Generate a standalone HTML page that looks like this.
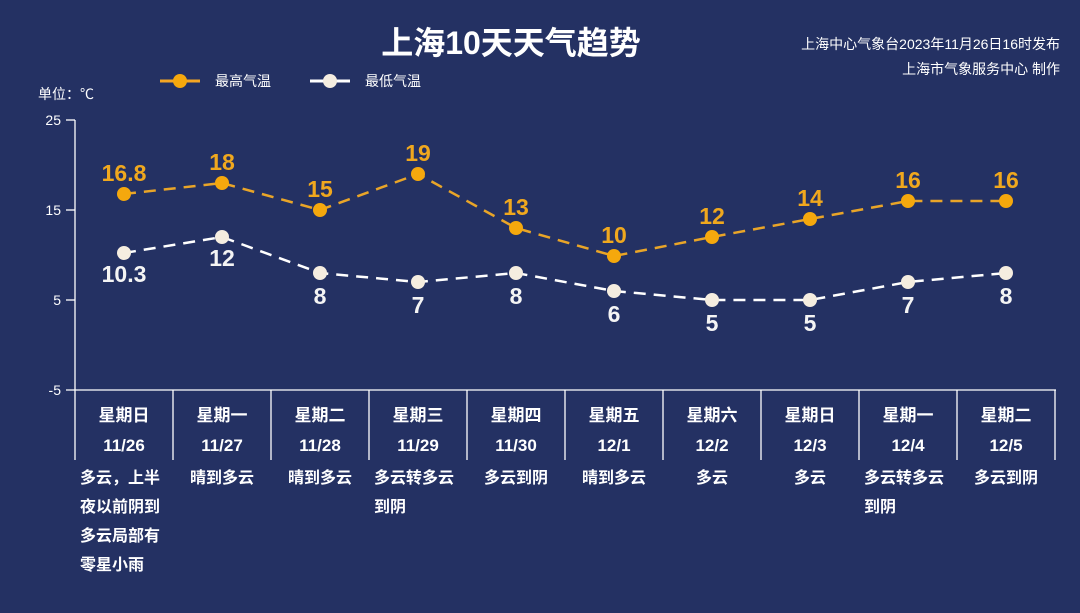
<!DOCTYPE html>
<html><head><meta charset="utf-8"><style>
html,body{margin:0;padding:0;background:#243163;}
svg{display:block;font-family:"Liberation Sans","Noto Sans CJK SC",sans-serif;}
</style></head><body>
<svg width="1080" height="613" viewBox="0 0 1080 613" xmlns="http://www.w3.org/2000/svg">
<rect width="1080" height="613" fill="#243163"/>
<text x="511" y="54" text-anchor="middle" font-size="32" font-weight="bold" fill="#fff">上海10天天气趋势</text>
<text x="1060" y="49" text-anchor="end" font-size="14" fill="#fff">上海中心气象台2023年11月26日16时发布</text>
<text x="1060" y="74" text-anchor="end" font-size="14" fill="#fff">上海市气象服务中心 制作</text>
<line x1="160" y1="81" x2="200" y2="81" stroke="#f5a623" stroke-width="3"/><circle cx="180" cy="81" r="7" fill="#f5a80d"/>
<text x="215" y="86" font-size="14" fill="#fff">最高气温</text>
<line x1="310" y1="81" x2="350" y2="81" stroke="#fff" stroke-width="3"/><circle cx="330" cy="81" r="7" fill="#f5ede0"/>
<text x="365" y="86" font-size="14" fill="#fff">最低气温</text>
<text x="38" y="99" font-size="14" fill="#fff">单位：℃</text>
<g stroke="#fff" stroke-width="1.3" fill="none">
<line x1="75" y1="120" x2="75" y2="460"/>
<line x1="66" y1="120" x2="75" y2="120"/><line x1="66" y1="210" x2="75" y2="210"/><line x1="66" y1="300" x2="75" y2="300"/>
<line x1="66" y1="390" x2="1056" y2="390"/>
<line x1="173" y1="390" x2="173" y2="460"/><line x1="271" y1="390" x2="271" y2="460"/><line x1="369" y1="390" x2="369" y2="460"/><line x1="467" y1="390" x2="467" y2="460"/><line x1="565" y1="390" x2="565" y2="460"/><line x1="663" y1="390" x2="663" y2="460"/><line x1="761" y1="390" x2="761" y2="460"/><line x1="859" y1="390" x2="859" y2="460"/><line x1="957" y1="390" x2="957" y2="460"/><line x1="1055" y1="390" x2="1055" y2="460"/>
</g>
<g font-size="14" fill="#fff" text-anchor="end">
<text x="61" y="125">25</text><text x="61" y="215">15</text><text x="61" y="305">5</text><text x="61" y="395">-5</text>
</g>
<polyline points="124,194 222,183 320,210 418,174 516,228 614,256 712,237 810,219 908,201 1006,201" fill="none" stroke="#e9a528" stroke-width="2.5" stroke-dasharray="12,8"/>
<polyline points="124,253 222,237 320,273 418,282 516,273 614,291 712,300 810,300 908,282 1006,273" fill="none" stroke="#fff" stroke-width="2.5" stroke-dasharray="12,8"/>
<g fill="#f5a80d">
<circle cx="124" cy="194" r="7"/><circle cx="222" cy="183" r="7"/><circle cx="320" cy="210" r="7"/><circle cx="418" cy="174" r="7"/><circle cx="516" cy="228" r="7"/><circle cx="614" cy="256" r="7"/><circle cx="712" cy="237" r="7"/><circle cx="810" cy="219" r="7"/><circle cx="908" cy="201" r="7"/><circle cx="1006" cy="201" r="7"/>
</g>
<g fill="#f5ede0">
<circle cx="124" cy="253" r="7"/><circle cx="222" cy="237" r="7"/><circle cx="320" cy="273" r="7"/><circle cx="418" cy="282" r="7"/><circle cx="516" cy="273" r="7"/><circle cx="614" cy="291" r="7"/><circle cx="712" cy="300" r="7"/><circle cx="810" cy="300" r="7"/><circle cx="908" cy="282" r="7"/><circle cx="1006" cy="273" r="7"/>
</g>
<g font-size="23" font-weight="bold" fill="#f0a81e" text-anchor="middle">
<text x="124" y="181">16.8</text><text x="222" y="170">18</text><text x="320" y="197">15</text><text x="418" y="161">19</text><text x="516" y="215">13</text><text x="614" y="243">10</text><text x="712" y="224">12</text><text x="810" y="206">14</text><text x="908" y="188">16</text><text x="1006" y="188">16</text>
</g>
<g font-size="23" font-weight="bold" fill="#f4f4f4" text-anchor="middle">
<text x="124" y="282">10.3</text><text x="222" y="266">12</text><text x="320" y="304">8</text><text x="418" y="313">7</text><text x="516" y="304">8</text><text x="614" y="322">6</text><text x="712" y="331">5</text><text x="810" y="331">5</text><text x="908" y="313">7</text><text x="1006" y="304">8</text>
</g>
<g font-size="17" font-weight="bold" fill="#fff" text-anchor="middle">
<text x="124" y="421">星期日</text><text x="222" y="421">星期一</text><text x="320" y="421">星期二</text><text x="418" y="421">星期三</text><text x="516" y="421">星期四</text><text x="614" y="421">星期五</text><text x="712" y="421">星期六</text><text x="810" y="421">星期日</text><text x="908" y="421">星期一</text><text x="1006" y="421">星期二</text>
<text x="124" y="451">11/26</text><text x="222" y="451">11/27</text><text x="320" y="451">11/28</text><text x="418" y="451">11/29</text><text x="516" y="451">11/30</text><text x="614" y="451">12/1</text><text x="712" y="451">12/2</text><text x="810" y="451">12/3</text><text x="908" y="451">12/4</text><text x="1006" y="451">12/5</text>
</g>
<g font-size="16" font-weight="bold" fill="#fff">
<text x="80" y="483">多云，上半</text><text x="80" y="512">夜以前阴到</text><text x="80" y="541">多云局部有</text><text x="80" y="570">零星小雨</text>
<text x="374" y="483">多云转多云</text><text x="374" y="512">到阴</text>
<text x="864" y="483">多云转多云</text><text x="864" y="512">到阴</text>
</g>
<g font-size="16" font-weight="bold" fill="#fff" text-anchor="middle">
<text x="222" y="483">晴到多云</text><text x="320" y="483">晴到多云</text><text x="516" y="483">多云到阴</text><text x="614" y="483">晴到多云</text><text x="712" y="483">多云</text><text x="810" y="483">多云</text><text x="1006" y="483">多云到阴</text>
</g>
</svg>
</body></html>
